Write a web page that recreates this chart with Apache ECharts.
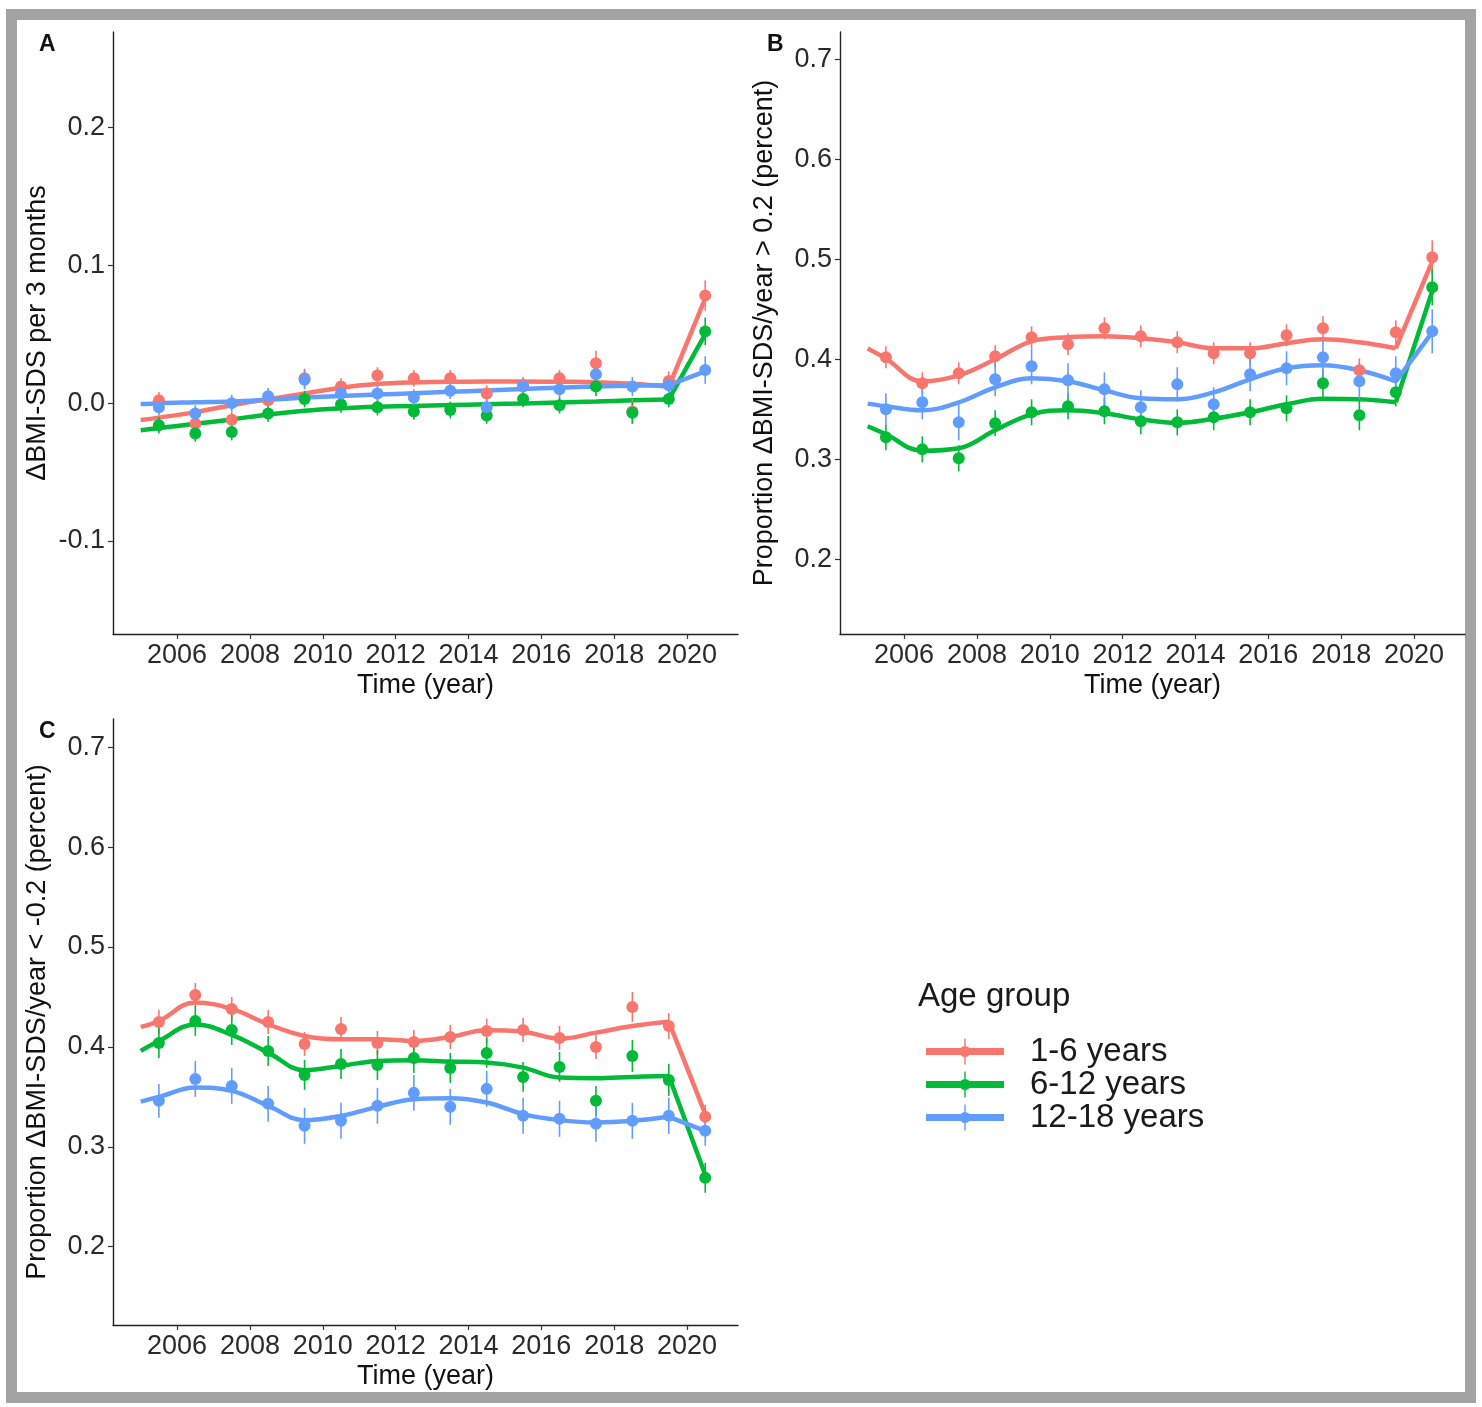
<!DOCTYPE html>
<html><head><meta charset="utf-8">
<script src="https://cdn.jsdelivr.net/npm/echarts@6/dist/echarts.min.js"></script>
<style>html,body{margin:0;padding:0;background:#fff;}#c{width:1482px;height:1407px;}</style>
</head><body><div id="c"></div>
<script>
// ---------- data ----------
const groups = ['1-6 years', '6-12 years', '12-18 years'];
const pointYears = [2005.5, 2006.5, 2007.5, 2008.5, 2009.5, 2010.5, 2011.5, 2012.5, 2013.5, 2014.5, 2015.5, 2016.5, 2017.5, 2018.5, 2019.5, 2020.5];
const fitYears = [2005, 2005.5, 2006.5, 2007.5, 2008.5, 2009.5, 2010.5, 2011.5, 2012.5, 2013.5, 2014.5, 2015.5, 2016.5, 2017.5, 2018.5, 2019.5];
const jumpYears = [2019.5, 2020.5];
const xTicks = [2006, 2008, 2010, 2012, 2014, 2016, 2018, 2020];
const yTicksA = [-0.1, 0, 0.1, 0.2];
const yTicksBC = [0.2, 0.3, 0.4, 0.5, 0.6, 0.7];

// Panel A: ΔBMI-SDS per 3 months
const aRed   = [0.002, -0.015, -0.012, 0.002, 0.018, 0.012, 0.020, 0.018, 0.018, 0.007, 0.013, 0.018, 0.029, -0.006, 0.016, 0.078];
const aGreen = [-0.016, -0.022, -0.021, -0.0075, 0.003, -0.001, -0.003, -0.006, -0.005, -0.009, 0.003, -0.0015, 0.012, -0.007, 0.003, 0.052];
const aBlue  = [-0.003, -0.0075, 0.0, 0.005, 0.017, 0.007, 0.007, 0.004, 0.009, -0.003, 0.012, 0.010, 0.021, 0.012, 0.013, 0.024];
const aRedErr   = [0.006, 0.006, 0.006, 0.006, 0.007, 0.006, 0.006, 0.006, 0.006, 0.006, 0.006, 0.006, 0.009, 0.009, 0.007, 0.011];
const aGreenErr = [0.006, 0.006, 0.006, 0.006, 0.006, 0.006, 0.006, 0.006, 0.006, 0.006, 0.006, 0.006, 0.007, 0.008, 0.006, 0.010];
const aBlueErr  = [0.006, 0.006, 0.006, 0.006, 0.007, 0.006, 0.006, 0.006, 0.006, 0.006, 0.006, 0.006, 0.007, 0.007, 0.006, 0.010];
const aRedFit   = [-0.0123, -0.0105, -0.0065, -0.0015, 0.0028, 0.007, 0.0112, 0.0138, 0.015, 0.0155, 0.0156, 0.0156, 0.0155, 0.0152, 0.014, 0.0118];
const aGreenFit = [-0.0196, -0.018, -0.015, -0.0118, -0.0082, -0.0055, -0.0038, -0.0027, -0.002, -0.0014, -0.0008, -0.0002, 0.0005, 0.0012, 0.002, 0.0027];
const aBlueFit  = [-0.0007, 0.0, 0.0006, 0.0012, 0.0025, 0.004, 0.0052, 0.0062, 0.0072, 0.0082, 0.0092, 0.0102, 0.0112, 0.012, 0.0126, 0.013];
const aFitEnd   = [0.076, 0.050, 0.023];

// Panel B: proportion > 0.2
const bRed   = [0.402, 0.376, 0.386, 0.403, 0.422, 0.415, 0.431, 0.423, 0.417, 0.406, 0.406, 0.424, 0.431, 0.389, 0.427, 0.502];
const bGreen = [0.322, 0.310, 0.301, 0.336, 0.347, 0.353, 0.348, 0.338, 0.337, 0.342, 0.347, 0.351, 0.376, 0.344, 0.367, 0.472];
const bBlue  = [0.350, 0.357, 0.337, 0.380, 0.393, 0.379, 0.370, 0.352, 0.375, 0.355, 0.385, 0.391, 0.402, 0.378, 0.386, 0.428];
const bRedErr   = [0.011, 0.011, 0.011, 0.011, 0.011, 0.011, 0.011, 0.011, 0.011, 0.011, 0.011, 0.011, 0.012, 0.012, 0.012, 0.017];
const bGreenErr = [0.013, 0.013, 0.013, 0.013, 0.013, 0.013, 0.013, 0.013, 0.013, 0.013, 0.013, 0.013, 0.014, 0.015, 0.014, 0.018];
const bBlueErr  = [0.016, 0.017, 0.018, 0.017, 0.018, 0.017, 0.017, 0.017, 0.017, 0.017, 0.017, 0.017, 0.018, 0.018, 0.017, 0.022];
const bRedFit   = [0.4107, 0.4007, 0.378, 0.384, 0.400, 0.418, 0.422, 0.423, 0.421, 0.417, 0.411, 0.411, 0.416, 0.420, 0.417, 0.411];
const bGreenFit = [0.333, 0.325, 0.3085, 0.311, 0.329, 0.345, 0.349, 0.346, 0.340, 0.3365, 0.3405, 0.347, 0.355, 0.3605, 0.360, 0.357];
const bBlueFit  = [0.3557, 0.353, 0.349, 0.357, 0.372, 0.381, 0.378, 0.369, 0.361, 0.360, 0.367, 0.380, 0.391, 0.394, 0.389, 0.378];
const bFitEnd   = [0.498, 0.468, 0.427];

// Panel C: proportion < -0.2
const cRed   = [0.425, 0.452, 0.438, 0.425, 0.403, 0.418, 0.404, 0.405, 0.410, 0.416, 0.417, 0.409, 0.400, 0.440, 0.421, 0.330];
const cGreen = [0.404, 0.426, 0.417, 0.396, 0.372, 0.383, 0.382, 0.389, 0.379, 0.394, 0.370, 0.380, 0.346, 0.391, 0.367, 0.269];
const cBlue  = [0.346, 0.368, 0.361, 0.343, 0.321, 0.326, 0.341, 0.354, 0.340, 0.358, 0.331, 0.328, 0.323, 0.326, 0.331, 0.316];
const cRedErr   = [0.012, 0.012, 0.012, 0.012, 0.012, 0.012, 0.012, 0.012, 0.012, 0.012, 0.012, 0.012, 0.012, 0.015, 0.013, 0.012];
const cGreenErr = [0.015, 0.015, 0.015, 0.015, 0.015, 0.015, 0.015, 0.015, 0.015, 0.015, 0.015, 0.015, 0.015, 0.016, 0.016, 0.015];
const cBlueErr  = [0.017, 0.018, 0.018, 0.018, 0.018, 0.018, 0.018, 0.018, 0.018, 0.018, 0.018, 0.018, 0.018, 0.018, 0.018, 0.015];
const cRedFit   = [0.420, 0.426, 0.4445, 0.438, 0.4227, 0.411, 0.4077, 0.4077, 0.406, 0.410, 0.4167, 0.4153, 0.4083, 0.4143, 0.421, 0.4253];
const cGreenFit = [0.396, 0.406, 0.4225, 0.412, 0.3943, 0.3767, 0.381, 0.386, 0.3867, 0.3853, 0.3843, 0.3793, 0.3693, 0.3687, 0.370, 0.371];
const cBlueFit  = [0.3453, 0.350, 0.3593, 0.356, 0.341, 0.3267, 0.331, 0.340, 0.3477, 0.3487, 0.3443, 0.3327, 0.3267, 0.3243, 0.326, 0.330];
const cFitEnd   = [0.333, 0.272, 0.316];

// ---------- styling ----------
const colors = ['#F8766D', '#00BA38', '#619CFF'];
const FONT = '"Liberation Sans", Arial, Helvetica, sans-serif';
const X_MIN = 2004.24, X_MAX = 2021.4;

function xAxisCfg(gi) {
  return {
    type: 'value', gridIndex: gi, min: X_MIN, max: X_MAX,
    name: 'Time (year)', nameLocation: 'middle', nameGap: 38,
    nameTextStyle: { fontSize: 27, color: '#111', fontFamily: FONT },
    axisLine: { show: true, onZero: false, lineStyle: { color: '#222', width: 1.4 } },
    axisTick: { show: true, length: 5, customValues: xTicks, lineStyle: { color: '#333', width: 1.2 } },
    axisLabel: { customValues: xTicks, fontSize: 27, color: '#2a2a2a', margin: 8, fontFamily: FONT,
      formatter: v => String(Math.round(v)) },
    splitLine: { show: false }
  };
}
function yAxisCfg(gi, min, max, ticks, name) {
  return {
    type: 'value', gridIndex: gi, min: min, max: max,
    name: name, nameLocation: 'middle', nameGap: 62, nameRotate: 90,
    nameTextStyle: { fontSize: 27, color: '#111', fontFamily: FONT },
    axisLine: { show: true, onZero: false, lineStyle: { color: '#222', width: 1.4 } },
    axisTick: { show: true, length: 5, customValues: ticks, lineStyle: { color: '#333', width: 1.2 } },
    axisLabel: { customValues: ticks, fontSize: 27, color: '#2a2a2a', margin: 8, fontFamily: FONT,
      formatter: v => (Math.round(v * 10) / 10).toFixed(1) },
    splitLine: { show: false }
  };
}

function panelSeries(gi, pts, errs, fits, fitEnd, named) {
  const out = [];
  for (let g = 0; g < 3; g++) {
    const col = colors[g];
    out.push({
      type: 'line', xAxisIndex: gi, yAxisIndex: gi, smooth: 0.4, showSymbol: false, symbol: 'none',
      data: fitYears.map((x, i) => [x, fits[g][i]]),
      lineStyle: { color: col, width: 4.5 }, itemStyle: { color: col }, z: 2, silent: true
    });
    out.push({
      type: 'line', xAxisIndex: gi, yAxisIndex: gi, smooth: false, showSymbol: false, symbol: 'none',
      data: [[jumpYears[0], fits[g][fits[g].length - 1]], [jumpYears[1], fitEnd[g]]],
      lineStyle: { color: col, width: 4.5 }, itemStyle: { color: col }, z: 2, silent: true
    });
    out.push({
      type: 'custom', xAxisIndex: gi, yAxisIndex: gi, z: 3, silent: true,
      data: pointYears.map((x, i) => [x, pts[g][i], errs[g][i]]),
      renderItem: function (params, api) {
        const x = api.value(0), y = api.value(1), e = api.value(2);
        const p1 = api.coord([x, y - e]), p2 = api.coord([x, y + e]);
        return { type: 'line', shape: { x1: p1[0], y1: p1[1], x2: p2[0], y2: p2[1] },
          style: { stroke: col, lineWidth: 1.6 } };
      }
    });
    out.push({
      type: 'scatter', name: named ? groups[g] : undefined, xAxisIndex: gi, yAxisIndex: gi,
      symbol: 'circle', symbolSize: 12, z: 4,
      data: pointYears.map((x, i) => [x, pts[g][i]]),
      itemStyle: { color: col, opacity: 1 }
    });
  }
  return out;
}

const legendIcon = 'path://M0,9.5 L78,9.5 L78,16.5 L0,16.5 Z M33.5,13 A5.5,5.5 0 1,1 44.5,13 A5.5,5.5 0 1,1 33.5,13 Z M38.3,0 L39.7,0 L39.7,26 L38.3,26 Z';

const option = {
  backgroundColor: '#fff',
  animation: false,
  grid: [
    { left: 113, top: 32, width: 625, height: 602 },
    { left: 840, top: 32, width: 625, height: 602 },
    { left: 113, top: 719, width: 625, height: 606 }
  ],
  xAxis: [xAxisCfg(0), xAxisCfg(1), xAxisCfg(2)],
  yAxis: [
    yAxisCfg(0, -0.1674, 0.2691, yTicksA, 'ΔBMI-SDS per 3 months'),
    yAxisCfg(1, 0.1253, 0.7273, yTicksBC, 'Proportion ΔBMI-SDS/year > 0.2 (percent)'),
    yAxisCfg(2, 0.1216, 0.7283, yTicksBC, 'Proportion ΔBMI-SDS/year < -0.2 (percent)')
  ],
  legend: {
    orient: 'vertical', left: 926, top: 1035, padding: 0, itemGap: 0,
    itemWidth: 78, itemHeight: 26, selectedMode: false,
    data: groups.map(n => ({ name: n, icon: legendIcon })),
    textStyle: { fontSize: 33, color: '#1a1a1a', fontFamily: FONT, lineHeight: 32, padding: [0, 0, 0, 21] }
  },
  graphic: [
    { type: 'rect', shape: { x: 11.5, y: 14.5, width: 1459, height: 1383 },
      style: { fill: 'none', stroke: '#a3a3a3', lineWidth: 11 }, silent: true },
    { type: 'text', left: 39, top: 33, style: { text: 'A', font: 'bold 23px ' + FONT, fill: '#111' } },
    { type: 'text', left: 767, top: 33, style: { text: 'B', font: 'bold 23px ' + FONT, fill: '#111' } },
    { type: 'text', left: 39, top: 720, style: { text: 'C', font: 'bold 23px ' + FONT, fill: '#111' } },
    { type: 'text', left: 918, top: 980, style: { text: 'Age group', font: '33px ' + FONT, fill: '#1a1a1a' } }
  ],
  series: [].concat(
    panelSeries(0, [aRed, aGreen, aBlue], [aRedErr, aGreenErr, aBlueErr], [aRedFit, aGreenFit, aBlueFit], aFitEnd, true),
    panelSeries(1, [bRed, bGreen, bBlue], [bRedErr, bGreenErr, bBlueErr], [bRedFit, bGreenFit, bBlueFit], bFitEnd, false),
    panelSeries(2, [cRed, cGreen, cBlue], [cRedErr, cGreenErr, cBlueErr], [cRedFit, cGreenFit, cBlueFit], cFitEnd, false)
  )
};

const chart = echarts.init(document.getElementById('c'), null, { renderer: 'canvas' });
chart.setOption(option);
</script>
</body></html>
